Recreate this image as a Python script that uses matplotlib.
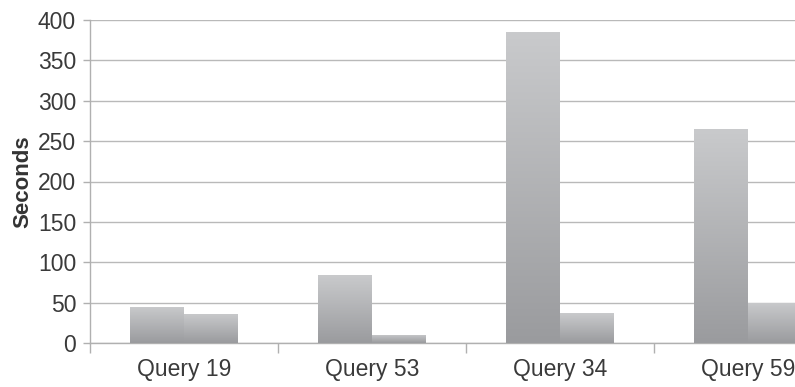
import numpy as np
import matplotlib
matplotlib.use("Agg")
import matplotlib.pyplot as plt
from matplotlib.colors import LinearSegmentedColormap

# ----------------------
# DATA
# ----------------------
queries = ["Query 19", "Query 53", "Query 34", "Query 59"]
series_a = [45, 84, 385, 265]
series_b = [36, 10, 37, 50]
y_ticks = [0, 50, 100, 150, 200, 250, 300, 350, 400]

plt.rcParams["font.family"] = ["Liberation Sans", "DejaVu Sans"]

fig = plt.figure(figsize=(7.95, 3.87), dpi=100)
# axes deliberately runs past the right edge, like the cropped original
ax = fig.add_axes([90 / 795, 44 / 387, 752 / 795, 323 / 387])

x = np.arange(len(queries))
w = 0.285
bars_a = ax.bar(x - w / 2, series_a, width=w, color="none", zorder=3)
bars_b = ax.bar(x + w / 2, series_b, width=w, color="none", zorder=3)

# vertical grey gradient inside each bar
cmap = LinearSegmentedColormap.from_list("bargrad", ["#9a9b9e", "#c9cacc"])
grad = np.linspace(0, 1, 256).reshape(-1, 1)
for bar in list(bars_a) + list(bars_b):
    x0, y0 = bar.get_x(), bar.get_y()
    x1, y1 = x0 + bar.get_width(), y0 + bar.get_height()
    im = ax.imshow(grad, cmap=cmap, origin="lower", aspect="auto",
                   extent=[x0, x1, y0, y1], zorder=3)
    im.set_clip_path(bar)

ax.set_xlim(-0.5, len(queries) - 0.5)
ax.set_ylim(0, 400)

# gridlines
ax.set_yticks(y_ticks)
ax.yaxis.grid(True, color="#b9b9b9", linewidth=1.0, zorder=0)
ax.set_axisbelow(True)

# category boundaries as major ticks, names as minor ticks
ax.set_xticks(np.arange(len(queries) + 1) - 0.5)
ax.set_xticklabels([])
ax.set_xticks(x, minor=True)
ax.set_xticklabels(queries, minor=True)
ax.tick_params(axis="x", which="major", length=7, color="#b0b0b0", width=1)
ax.tick_params(axis="x", which="minor", length=0, pad=11,
               labelsize=16.5, labelcolor="#3a3a3a")
ax.tick_params(axis="y", length=5, color="#b0b0b0", width=1, pad=5,
               labelsize=16.5, labelcolor="#3a3a3a")

for side in ["top", "right"]:
    ax.spines[side].set_visible(False)
for side in ["left", "bottom"]:
    ax.spines[side].set_color("#b0b0b0")
    ax.spines[side].set_linewidth(1)

ax.set_ylabel("Seconds", fontsize=16, fontweight="bold", color="#333333",
              labelpad=3)

fig.savefig("out.png", dpi=100)
